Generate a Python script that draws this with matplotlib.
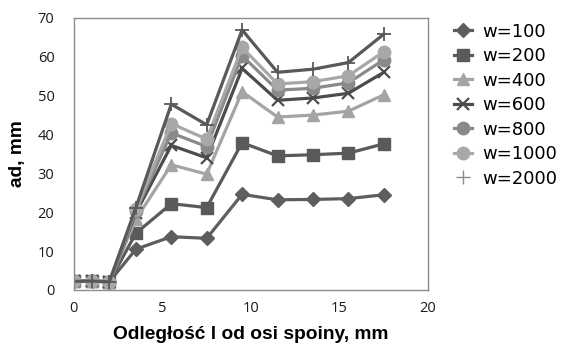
import matplotlib
matplotlib.use("Agg")
import matplotlib.pyplot as plt
from matplotlib.lines import Line2D

x = [0, 1, 2, 3.5, 5.5, 7.5, 9.5, 11.5, 13.5, 15.5, 17.5]
labels = ["w=100", "w=200", "w=400", "w=600", "w=800", "w=1000", "w=2000"]
w100 = [2.2, 2.3, 2.1, 10.5, 13.7, 13.3, 24.6, 23.2, 23.3, 23.5, 24.5]
w200 = [2.2, 2.3, 2.1, 14.6, 22.2, 21.2, 37.9, 34.5, 34.8, 35.2, 37.6]
w400 = [2.2, 2.3, 2.1, 18.2, 32.2, 29.8, 51.0, 44.5, 45.0, 46.0, 50.2]
w600 = [2.2, 2.3, 2.1, 19.8, 37.2, 34.0, 57.0, 48.8, 49.4, 50.6, 56.0]
w800 = [2.2, 2.3, 2.1, 20.3, 40.4, 36.9, 60.3, 51.4, 51.9, 53.3, 59.2]
w1000 = [2.2, 2.3, 2.1, 20.8, 42.8, 38.8, 62.4, 53.0, 53.6, 55.1, 61.3]
w2000 = [2.2, 2.3, 2.1, 21.2, 47.8, 42.5, 66.9, 56.0, 56.8, 58.5, 65.8]
series = [w100, w200, w400, w600, w800, w1000, w2000]

styles = [
    dict(color="#5e5e5e", marker="D", ms=7.5),
    dict(color="#5a5a5a", marker="s", ms=8.5),
    dict(color="#a4a4a4", marker="^", ms=8.5),
    dict(color="#4c4c4c", marker="x", ms=8, mew=1.6),
    dict(color="#8a8a8a", marker="o", ms=9),
    dict(color="#a8a8a8", marker="o", ms=9),
    dict(color="#595959", marker="+", ms=10, mew=1.3),
]

fig = plt.figure(figsize=(5.73, 3.44), dpi=100)
ax = fig.add_axes([0.129, 0.157, 0.618, 0.791])
handles = []
for ys, lab, st in zip(series, labels, styles):
    ln, = ax.plot(x, ys, lw=2.3, label=lab, **st)
    handles.append(ln)
# last legend entry shows marker only
handles[-1] = Line2D([], [], ls="none", marker="+", ms=10, mew=1.0, color="#8a8a8a")

ax.set_xlim(0, 20)
ax.set_ylim(0, 70)
ax.set_xticks([0, 5, 10, 15, 20])
ax.set_yticks(range(0, 71, 10))
for s in ax.spines.values():
    s.set_color("#8c8c8c")
    s.set_linewidth(1.0)
ax.tick_params(axis="both", length=0, labelsize=10.5, colors="#1a1a1a")
ax.tick_params(axis="y", pad=14)
ax.tick_params(axis="x", pad=8)
for t in ax.get_xticklabels() + ax.get_yticklabels():
    t.set_family("Open Sans")
ax.set_xlabel("Odległość l od osi spoiny, mm", fontsize=13.8, fontweight="bold",
              family="Liberation Sans", labelpad=7)
ax.set_ylabel("ad, mm", fontsize=13.8, fontweight="bold", family="Liberation Sans", labelpad=8)

fig.legend(handles, labels, loc="upper left", bbox_to_anchor=(0.779, 0.955), frameon=False,
           prop=dict(family="DejaVu Sans", size=13), handlelength=1.0,
           handletextpad=0.6, labelspacing=0.36, borderaxespad=0)
fig.savefig("out.png", dpi=100)
